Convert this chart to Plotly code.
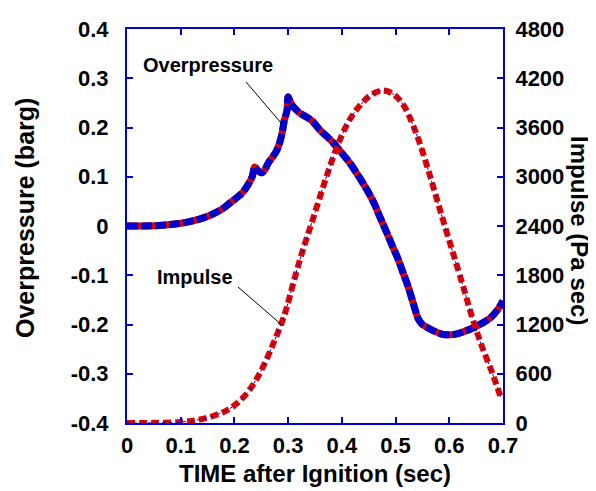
import plotly.graph_objects as go

# Overpressure (barg) vs time (s)
op_time = [0, 0.03, 0.06, 0.09, 0.112, 0.135, 0.155, 0.175, 0.192, 0.205, 0.216, 0.226, 0.233,
           0.238, 0.244, 0.251, 0.257, 0.263, 0.271, 0.279, 0.285, 0.289, 0.293, 0.298, 0.300,
           0.303, 0.307, 0.315, 0.322, 0.333, 0.345, 0.359, 0.372, 0.384, 0.40, 0.415, 0.43,
           0.447, 0.46, 0.471, 0.483, 0.495, 0.505, 0.514, 0.523, 0.531, 0.537, 0.542, 0.550,
           0.559, 0.573, 0.588, 0.60, 0.614, 0.628, 0.644, 0.66, 0.676, 0.69, 0.70]
op_value = [0, 0, 0.001, 0.004, 0.008, 0.014, 0.022, 0.033, 0.047, 0.058, 0.069, 0.085, 0.10,
            0.12, 0.112, 0.108, 0.115, 0.128, 0.140, 0.154, 0.172, 0.19, 0.215, 0.235, 0.262,
            0.255, 0.246, 0.236, 0.229, 0.222, 0.213, 0.195, 0.182, 0.169, 0.148, 0.128, 0.103,
            0.073, 0.046, 0.018, -0.012, -0.043, -0.068, -0.095, -0.122, -0.150, -0.172, -0.188, -0.200,
            -0.206, -0.214, -0.220, -0.221, -0.219, -0.214, -0.207, -0.198, -0.187, -0.170, -0.152]

# Impulse (Pa sec) vs time (s)
imp_time = [0, 0.05, 0.1, 0.13, 0.16, 0.186, 0.205, 0.223, 0.238, 0.253, 0.272, 0.289, 0.298,
            0.309, 0.322, 0.331, 0.341, 0.359, 0.378, 0.397, 0.415, 0.434, 0.453, 0.475, 0.495,
            0.514, 0.533, 0.551, 0.570, 0.588, 0.607, 0.626, 0.642, 0.661, 0.680, 0.697]
imp_value = [0, 2, 12, 35, 85, 155, 240, 360, 500, 680, 960, 1240, 1420,
             1690, 1990, 2180, 2380, 2750, 3130, 3460, 3700, 3870, 3990, 4050, 4010,
             3880, 3620, 3290, 2880, 2480, 2070, 1660, 1300, 930, 610, 290]

x_ticks = [0, 0.1, 0.2, 0.3, 0.4, 0.5, 0.6, 0.7]
x_ticktext = ["0", "0.1", "0.2", "0.3", "0.4", "0.5", "0.6", "0.7"]
y_ticks = [-0.4, -0.3, -0.2, -0.1, 0, 0.1, 0.2, 0.3, 0.4]
y_ticktext = ["-0.4", "-0.3", "-0.2", "-0.1", "0", "0.1", "0.2", "0.3", "0.4"]
y2_ticks = [0, 600, 1200, 1800, 2400, 3000, 3600, 4200, 4800]
y2_ticktext = ["0", "600", "1200", "1800", "2400", "3000", "3600", "4200", "4800"]

RED = "#E00000"
BLUE = "#0000CC"
AX = "#0000DD"
FONT = "Liberation Sans"

fig = go.Figure()
fig.add_trace(go.Scatter(x=imp_time, y=imp_value, yaxis="y2", mode="lines",
                         line=dict(color=RED, width=6, dash="8px,4px", shape="spline"),
                         showlegend=False, hoverinfo="skip"))
fig.add_trace(go.Scatter(x=imp_time, y=imp_value, yaxis="y2", mode="lines",
                         line=dict(color=BLUE, width=1, dash="3px,4px", shape="spline"),
                         showlegend=False, hoverinfo="skip"))
fig.add_trace(go.Scatter(x=op_time, y=op_value, mode="lines",
                         line=dict(color=RED, width=7, shape="spline"),
                         showlegend=False, hoverinfo="skip"))
fig.add_trace(go.Scatter(x=op_time, y=op_value, mode="lines",
                         line=dict(color=BLUE, width=7, dash="11px,3px", shape="spline"),
                         showlegend=False, hoverinfo="skip"))

tickfont = dict(family=FONT, size=22, color="black", weight="bold")
titlefont = dict(family=FONT, size=24, color="black", weight="bold")

fig.update_layout(
    width=596, height=491,
    margin=dict(l=119, r=101, t=21, b=76),
    paper_bgcolor="white", plot_bgcolor="white",
    font=dict(family=FONT, color="black"),
    xaxis=dict(range=[0, 0.7], tickvals=x_ticks, ticktext=x_ticktext,
               ticks="inside", ticklen=6, tickwidth=2, tickcolor=AX,
               showline=True, linecolor=AX, linewidth=2, mirror="ticks",
               showgrid=False, zeroline=False, tickfont=tickfont,
               ticklabelstandoff=2, automargin=False,
               title=dict(text="TIME after Ignition (sec)", font=titlefont, standoff=8)),
    yaxis=dict(range=[-0.4, 0.4], tickvals=y_ticks, ticktext=y_ticktext,
               ticks="inside", ticklen=6, tickwidth=2, tickcolor=AX,
               showline=True, linecolor=AX, linewidth=2, mirror=True,
               showgrid=False, zeroline=False, tickfont=tickfont,
               ticklabelstandoff=12, automargin=False),
    yaxis2=dict(range=[0, 4800], tickvals=y2_ticks, ticktext=y2_ticktext,
                overlaying="y", side="right",
                ticks="inside", ticklen=6, tickwidth=2, tickcolor=AX,
                showline=True, linecolor=AX, linewidth=2,
                showgrid=False, zeroline=False, tickfont=tickfont,
                ticklabelstandoff=6, automargin=False),
)

fig.add_annotation(text="Overpressure (barg)", xref="paper", yref="paper",
                   x=0.0, xshift=-102, xanchor="center", y=0.5, yshift=8, yanchor="middle",
                   textangle=-90, showarrow=False,
                   font=dict(family=FONT, size=25, color="black", weight="bold"))
fig.add_annotation(text="Impulse (Pa sec)", xref="paper", yref="paper",
                   x=1.0, xshift=77, xanchor="center", y=0.5, yshift=-4, yanchor="middle",
                   textangle=90, showarrow=False, font=titlefont)

# leader lines and labels
fig.add_shape(type="line", x0=0.2216, y0=0.2924, x1=0.2868, y1=0.2091,
              line=dict(color="black", width=1))
fig.add_shape(type="line", x0=0.2067, y0=-0.1239, x1=0.2905, y1=-0.203,
              line=dict(color="black", width=1))
fig.add_annotation(text="Overpressure", x=0.150, y=0.327, showarrow=False,
                   font=dict(family=FONT, size=20, color="black", weight="bold"))
fig.add_annotation(text="Impulse", x=0.1266, y=-0.1036, showarrow=False,
                   font=dict(family=FONT, size=20, color="black", weight="bold"))

fig.write_html("out.html")
